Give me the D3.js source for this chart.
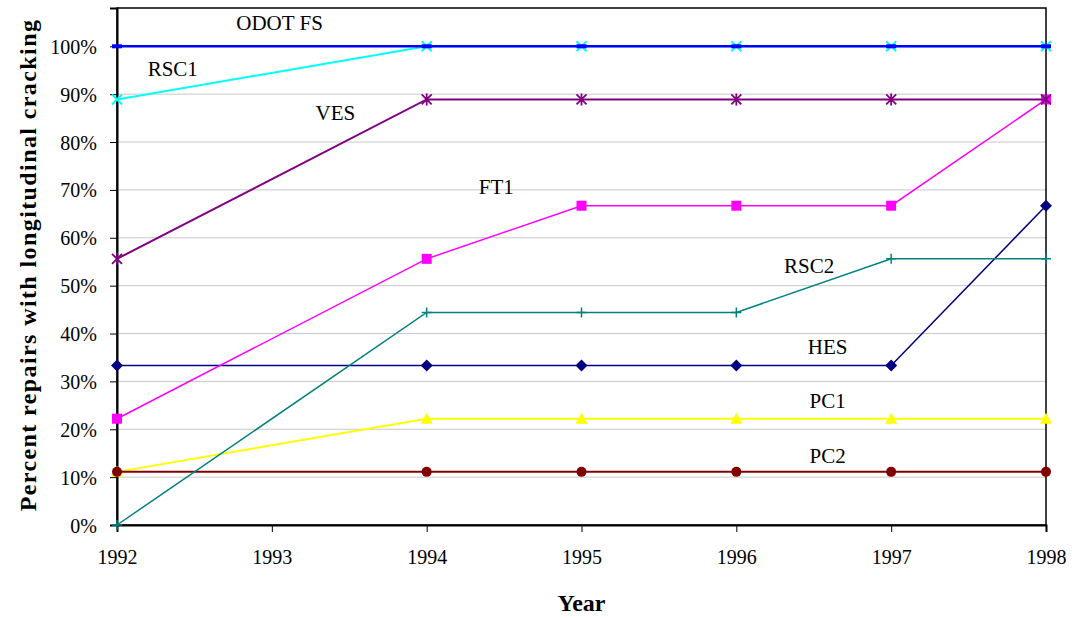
<!DOCTYPE html>
<html>
<head>
<meta charset="utf-8">
<script src="https://cdn.jsdelivr.net/npm/d3@7"></script>
<style>
  body { margin: 0; background: #fff; }
  svg text { font-family: "Liberation Serif", "Times New Roman", serif; }
</style>
</head>
<body>
<div id="chart-container"></div>
<script>
// data
const years = [1992, 1994, 1995, 1996, 1997, 1998];
const tickYears = [1992, 1993, 1994, 1995, 1996, 1997, 1998];
const yTicks = [0, 0.1, 0.2, 0.3, 0.4, 0.5, 0.6, 0.7, 0.8, 0.9, 1.0];

const pc1 = [0.111, 0.222, 0.222, 0.222, 0.222, 0.222];
const pc2 = [0.111, 0.111, 0.111, 0.111, 0.111, 0.111];
const hes = [0.333, 0.333, 0.333, 0.333, 0.333, 0.667];
const rsc2 = [0, 0.444, 0.444, 0.444, 0.556, 0.556];
const ft1 = [0.222, 0.556, 0.667, 0.667, 0.667, 0.889];
const ves = [0.556, 0.889, 0.889, 0.889, 0.889, 0.889];
const rsc1 = [0.889, 1.0, 1.0, 1.0, 1.0, 1.0];
const odot = [1.0, 1.0, 1.0, 1.0, 1.0, 1.0];

// label anchors (year, value)
const labelNames = ["ODOT FS", "RSC1", "VES", "FT1", "RSC2", "HES", "PC1", "PC2"];
const labelYears = [1993.05, 1992.36, 1993.41, 1994.45, 1996.47, 1996.59, 1996.59, 1996.59];
const labelValues = [1.05, 0.953, 0.861, 0.706, 0.541, 0.372, 0.259, 0.144];

const series = [
  { name: "PC1", values: pc1, color: "#FFFF00", marker: "triangle", width: 2 },
  { name: "PC2", values: pc2, color: "#800000", marker: "circle", width: 2 },
  { name: "HES", values: hes, color: "#000080", marker: "diamond", width: 1.5 },
  { name: "RSC2", values: rsc2, color: "#008080", marker: "plus", width: 1.5 },
  { name: "FT1", values: ft1, color: "#FF00FF", marker: "square", width: 1.5 },
  { name: "VES", values: ves, color: "#800080", marker: "star", width: 2 },
  { name: "RSC1", values: rsc1, color: "#00FFFF", marker: "x", width: 2 },
  { name: "ODOT FS", values: odot, color: "#0000FF", marker: "dash", width: 2.5 },
];

const W = 1072, H = 618;
const margin = { top: 8, right: 26, bottom: 93, left: 117 };
const width = W - margin.left - margin.right;
const height = H - margin.top - margin.bottom;
const serif = "Liberation Serif, Times New Roman, serif";

const svg = d3.select("#chart-container")
  .append("svg")
  .attr("width", W)
  .attr("height", H)
  .attr("font-family", serif);

const g = svg.append("g")
  .attr("transform", `translate(${margin.left},${margin.top})`);

const x = d3.scaleLinear().domain([1992, 1998]).range([0, width]);
const y = d3.scaleLinear().domain([0, 1.08]).range([height, 0]);

// gridlines
g.append("g")
  .selectAll("line")
  .data(yTicks.slice(1))
  .enter()
  .append("line")
  .attr("x1", 0)
  .attr("x2", width)
  .attr("y1", (d) => y(d))
  .attr("y2", (d) => y(d))
  .attr("stroke", "#c8c8c8")
  .attr("stroke-width", 1);

// plot frame
g.append("rect")
  .attr("width", width)
  .attr("height", height)
  .attr("fill", "none")
  .attr("stroke", "#000")
  .attr("stroke-width", 1.5);

// axes
const yAxis = g.append("g")
  .call(d3.axisLeft(y).tickValues(yTicks).tickFormat(d3.format(".0%")).tickSize(7).tickPadding(13));
const xAxis = g.append("g")
  .attr("transform", `translate(0,${height})`)
  .call(d3.axisBottom(x).tickValues(tickYears).tickFormat(d3.format("d")).tickSize(7).tickPadding(18));

[yAxis, xAxis].forEach((a) => {
  a.attr("font-family", serif).attr("font-size", 20);
  a.select(".domain").attr("stroke", "#000").attr("stroke-width", 2);
  a.selectAll(".tick line").attr("stroke", "#000");
  a.selectAll(".tick text")
    .attr("fill", "#000")
    .style("font-size", "20px");
});
yAxis.selectAll(".tick text").attr("dy", "0.35em");

// lines
const line = d3.line()
  .x((d, i) => x(years[i]))
  .y((d) => y(d));

function drawMarker(sel, type, color) {
  const s = 5;
  if (type === "triangle") {
    sel.append("path").attr("d", `M0,${-s - 1}L${s + 1},${s}L${-s - 1},${s}Z`).attr("fill", color);
  } else if (type === "circle") {
    sel.append("circle").attr("r", s).attr("fill", color);
  } else if (type === "diamond") {
    sel.append("path").attr("d", `M0,${-s - 1}L${s + 1},0L0,${s + 1}L${-s - 1},0Z`).attr("fill", color);
  } else if (type === "square") {
    sel.append("rect").attr("x", -s).attr("y", -s).attr("width", 2 * s).attr("height", 2 * s).attr("fill", color);
  } else if (type === "plus") {
    sel.append("path").attr("d", `M${-s},0H${s}M0,${-s}V${s}`).attr("stroke", color).attr("stroke-width", 1.5);
  } else if (type === "x") {
    sel.append("path").attr("d", `M${-s},${-s}L${s},${s}M${-s},${s}L${s},${-s}`).attr("stroke", color).attr("stroke-width", 2);
  } else if (type === "star") {
    sel.append("path").attr("d", `M${-s},${-s}L${s},${s}M${-s},${s}L${s},${-s}M0,${-s - 1}V${s + 1}`).attr("stroke", color).attr("stroke-width", 1.8);
  } else if (type === "dash") {
    sel.append("rect").attr("x", -s).attr("y", -2).attr("width", 2 * s).attr("height", 4).attr("fill", color);
  }
}

series.forEach((s) => {
  g.append("path")
    .datum(s.values)
    .attr("fill", "none")
    .attr("stroke", s.color)
    .attr("stroke-width", s.width)
    .attr("d", line);

  g.selectAll(null)
    .data(s.values)
    .enter()
    .append("g")
    .attr("transform", (d, i) => `translate(${x(years[i])},${y(d)})`)
    .each(function () { drawMarker(d3.select(this), s.marker, s.color); });
});

// series labels
g.selectAll(".series-label")
  .data(labelNames)
  .enter()
  .append("text")
  .attr("class", "series-label")
  .attr("x", (d, i) => x(labelYears[i]))
  .attr("y", (d, i) => y(labelValues[i]))
  .attr("text-anchor", "middle")
  .attr("dy", "0.35em")
  .style("font-size", "21px")
  .text((d) => d);

// axis titles
svg.append("text")
  .attr("x", margin.left + width / 2)
  .attr("y", 611)
  .attr("text-anchor", "middle")
  .style("font-size", "24px")
  .style("font-weight", "bold")
  .text("Year");

svg.append("text")
  .attr("transform", `translate(36,${margin.top + 257}) rotate(-90)`)
  .attr("text-anchor", "middle")
  .style("font-size", "24px")
  .style("font-weight", "bold")
  .style("letter-spacing", "1.4px")
  .text("Percent repairs with longitudinal cracking");
</script>
</body>
</html>
